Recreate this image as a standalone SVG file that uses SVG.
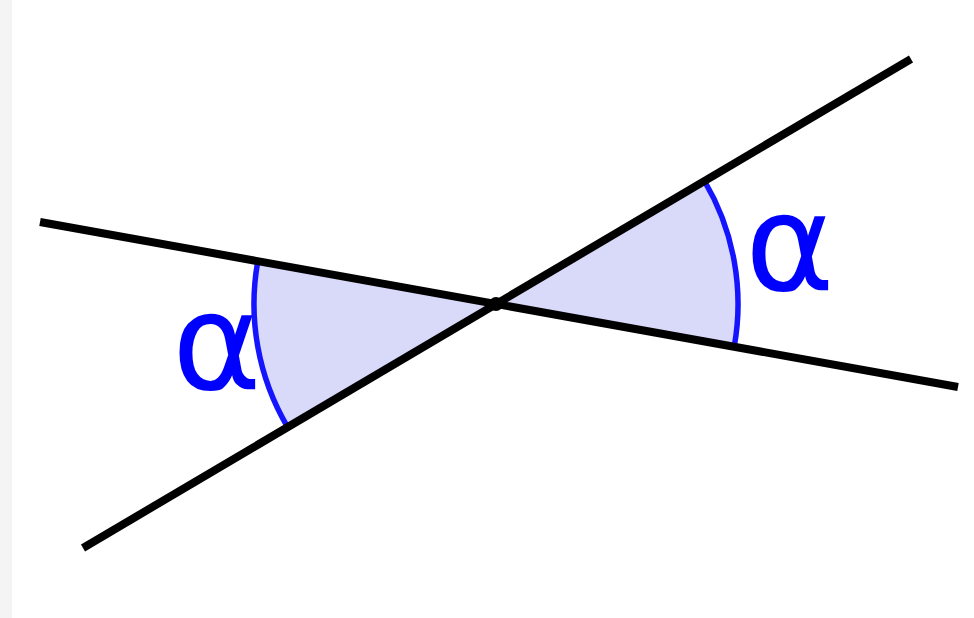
<svg xmlns="http://www.w3.org/2000/svg" width="974" height="618" viewBox="0 0 974 618">
<style>
.sector{fill:#d9d9fa;stroke:none}
.arc{fill:none;stroke:#1414ff;stroke-width:5.5}
.line{stroke:#000;stroke-width:8;fill:none}
.lbl{font-family:"DejaVu Sans",sans-serif;font-size:136px;fill:#0000ff}
</style>
<rect width="974" height="618" fill="#fff"/>
<rect x="0" y="0" width="12" height="618" fill="#f4f4f4"/>
<g id="angle-left">
<path class="sector" d="M496,304 L257.8,261.2 A242,242 0 0 0 287.6,427.1 Z"/>
<path class="arc" d="M257.8,261.2 A242,242 0 0 0 287.6,427.1"/>
</g>
<g id="angle-right">
<path class="sector" d="M496,304 L704.4,180.9 A242,242 0 0 1 734.2,346.8 Z"/>
<path class="arc" d="M704.4,180.9 A242,242 0 0 1 734.2,346.8"/>
</g>
<g id="lines">
<line class="line" x1="40" y1="222" x2="958" y2="387"/>
<line class="line" x1="83" y1="548" x2="911" y2="59"/>
<circle cx="496" cy="304" r="7" fill="#000"/>
</g>
<g id="labels">
<text class="lbl" x="172" y="389">α</text>
<text class="lbl" x="745" y="290">α</text>
</g>
</svg>
